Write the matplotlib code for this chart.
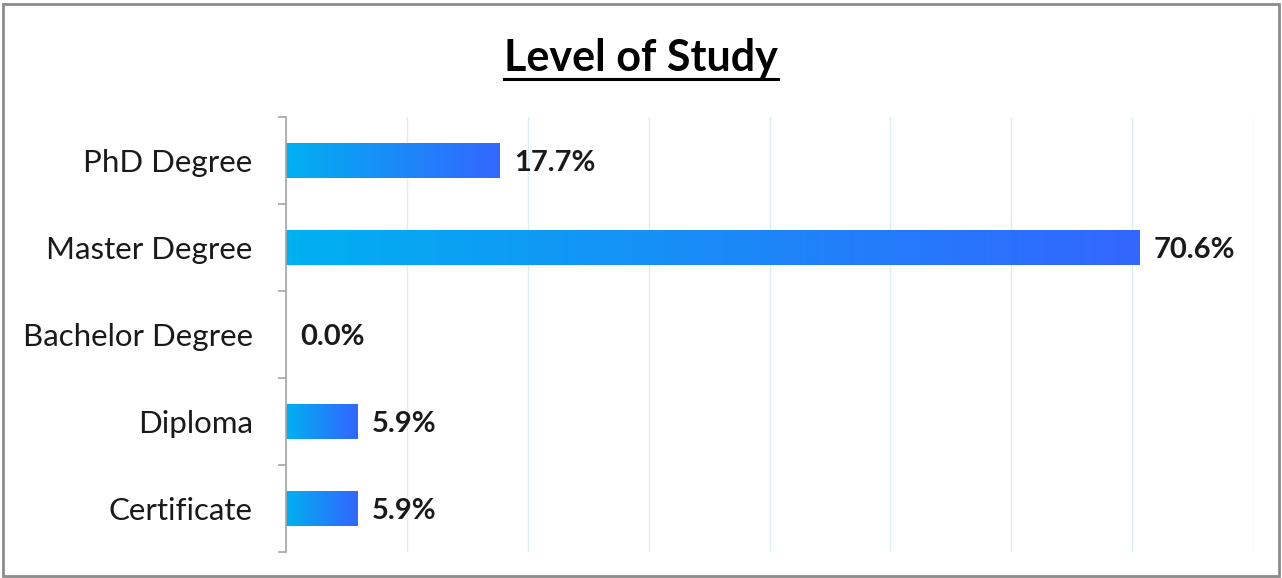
import numpy as np
import matplotlib.pyplot as plt
from matplotlib.patches import Rectangle
from matplotlib.colors import LinearSegmentedColormap

# data
categories = ["Certificate", "Diploma", "Bachelor Degree", "Master Degree", "PhD Degree"]
percents = [5.9, 5.9, 0.0, 70.6, 17.7]
labels = ["5.9%", "5.9%", "0.0%", "70.6%", "17.7%"]

plt.rcParams['font.family'] = ['Lato', 'DejaVu Sans']

fig = plt.figure(figsize=(12.82, 5.78), dpi=100)
ax = fig.add_axes([286 / 1282, 26 / 578, (1253 - 286) / 1282, (552 - 117) / 578])

grad = LinearSegmentedColormap.from_list("bar", ["#00B0F0", "#3366FF"])
ramp = np.linspace(0, 1, 256).reshape(1, -1)
bar_h = 0.4

for i, (v, lab) in enumerate(zip(percents, labels)):
    if v > 0:
        ax.imshow(ramp, cmap=grad, aspect="auto", interpolation="bicubic",
                  extent=[0, v, i - bar_h / 2, i + bar_h / 2], zorder=2)
    ax.text(v + 1.2, i - 0.03, lab, ha="left", va="center", fontsize=21,
            fontweight="bold", color="#1a1a1a", zorder=3)

ax.set_xlim(0, 80)
ax.set_ylim(-0.5, len(categories) - 0.5)
ax.set_xticks(np.arange(0, 81, 10))
ax.set_xticklabels([])
ax.tick_params(axis="x", length=0)
ax.grid(axis="x", color="#DAEEF3", linewidth=1.0, zorder=0)
ax.set_axisbelow(True)

ax.set_yticks(range(len(categories)))
ax.set_yticklabels(categories, fontsize=22.5, color="#1a1a1a")
ax.tick_params(axis="y", which="major", length=0, pad=24)
ax.set_yticks(np.arange(-0.5, len(categories), 1.0), minor=True)
ax.tick_params(axis="y", which="minor", length=6, color="#A6A6A6", width=1.2)

for s in ["top", "right", "bottom"]:
    ax.spines[s].set_visible(False)
ax.spines["left"].set_color("#A6A6A6")
ax.spines["left"].set_linewidth(1.2)

title = fig.text(0.5, 1 - 58 / 578, "Level of Study", ha="center", va="center",
                 fontsize=31, fontweight="bold", color="black")
# underline the title using its rendered extent
fig.canvas.draw()
bb = title.get_window_extent().transformed(fig.transFigure.inverted())
fig.add_artist(plt.Line2D([bb.x0, bb.x1], [1 - 79 / 578, 1 - 79 / 578],
                          color="black", linewidth=2.2))

fig.add_artist(Rectangle((0.002, 0.003), 0.996, 0.99, transform=fig.transFigure,
                         fill=False, edgecolor="#8C8C8C", linewidth=2))

fig.savefig("out.png", dpi=100)
